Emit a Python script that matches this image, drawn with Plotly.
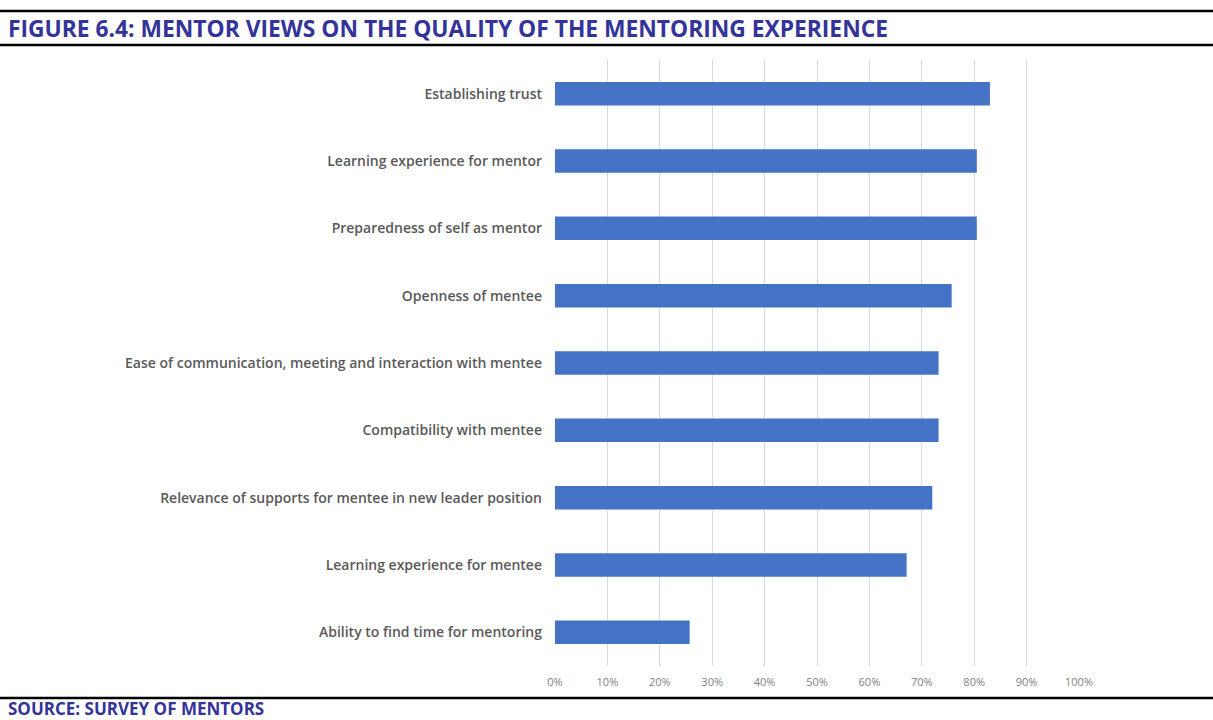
import plotly.graph_objects as go

categories = [
    "Establishing trust",
    "Learning experience for mentor",
    "Preparedness of self as mentor",
    "Openness of mentee",
    "Ease of communication, meeting and interaction with mentee",
    "Compatibility with mentee",
    "Relevance of supports for mentee in new leader position",
    "Learning experience for mentee",
    "Ability to find time for mentoring",
]
values = [0.83, 0.805, 0.805, 0.757, 0.732, 0.732, 0.72, 0.671, 0.257]
tick_vals = [0, 0.1, 0.2, 0.3, 0.4, 0.5, 0.6, 0.7, 0.8, 0.9, 1.0]
tick_text = ["0%", "10%", "20%", "30%", "40%", "50%", "60%", "70%", "80%", "90%", "100%"]

title_text = "FIGURE 6.4: MENTOR VIEWS ON THE QUALITY OF THE MENTORING EXPERIENCE"
source_text = "SOURCE: SURVEY OF MENTORS"

W, H = 1213, 720
L, R, T, B = 555, 134, 60, 54
PW = W - L - R
PH = H - T - B


def px_x(px):
    return (px - L) / PW


def px_y(py):
    return (H - B - py) / PH


fig = go.Figure(
    go.Bar(
        x=values,
        y=categories,
        orientation="h",
        marker=dict(color="#4472C4", line=dict(width=0)),
        width=0.35,
    )
)

navy = "#333399"
fig.update_layout(
    width=W,
    height=H,
    margin=dict(l=L, r=R, t=T, b=B, autoexpand=False),
    paper_bgcolor="white",
    plot_bgcolor="white",
    showlegend=False,
    xaxis=dict(
        range=[0, 1.0],
        tickvals=tick_vals,
        ticktext=tick_text,
        showgrid=True,
        gridcolor="#D9D9D9",
        gridwidth=1,
        zeroline=False,
        showline=False,
        tickfont=dict(family="Open Sans", size=11, color="#7F7F7F"),
        ticklabelstandoff=8,
        fixedrange=True,
    ),
    yaxis=dict(
        autorange="reversed",
        showgrid=False,
        showline=False,
        tickfont=dict(family="Open Sans", size=14, color="#595959", weight=600),
        ticklabelstandoff=12,
        fixedrange=True,
    ),
    annotations=[
        dict(
            text=title_text,
            xref="paper", yref="paper",
            x=px_x(6), y=px_y(28),
            xanchor="left", yanchor="middle",
            showarrow=False,
            font=dict(family="Open Sans", size=22.8, color=navy, weight="bold"),
        ),
        dict(
            text=source_text,
            xref="paper", yref="paper",
            x=px_x(6), y=px_y(708),
            xanchor="left", yanchor="middle",
            showarrow=False,
            font=dict(family="Open Sans", size=17, color=navy, weight="bold"),
        ),
    ],
    shapes=[
        dict(type="line", xref="paper", yref="paper",
             x0=px_x(0), x1=px_x(W), y0=px_y(y), y1=px_y(y),
             line=dict(color="black", width=2.5))
        for y in (11, 45, 698)
    ],
)

fig.write_html(
    "out.html",
    config={"displayModeBar": False},
    post_script="document.body.style.margin='0';document.body.style.overflow='hidden';",
)
